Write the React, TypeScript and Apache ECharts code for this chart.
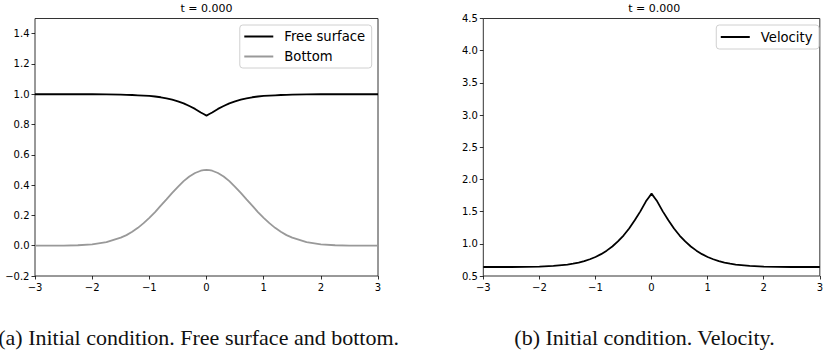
import React, { useEffect, useRef } from "react";
import * as echarts from "echarts";

// Sample positions along the channel
const xs = [
  -3, -2.75, -2.5, -2.25, -2, -1.75, -1.5, -1.4, -1.3, -1.2, -1.1, -1, -0.9, -0.8, -0.7, -0.6, -0.5, -0.4, -0.3, -0.2,
  -0.1, -0.05, 0, 0.05, 0.1, 0.2, 0.3, 0.4, 0.5, 0.6, 0.7, 0.8, 0.9, 1, 1.1, 1.2, 1.3, 1.4, 1.5, 1.75, 2, 2.25, 2.5,
  2.75, 3,
];

// Free surface elevation
const freeSurface = [
  1.0, 1.0, 1.0, 1.0, 1.0, 0.999, 0.997, 0.996, 0.995, 0.993, 0.991, 0.989, 0.985, 0.98, 0.973, 0.964, 0.953, 0.94,
  0.922, 0.903, 0.879, 0.869, 0.859, 0.869, 0.879, 0.903, 0.922, 0.94, 0.953, 0.964, 0.973, 0.98, 0.985, 0.989, 0.991,
  0.993, 0.995, 0.996, 0.997, 0.999, 1.0, 1.0, 1.0, 1.0, 1.0,
];

// Bottom topography
const bottom = [
  0.0, 0.0, 0.001, 0.003, 0.009, 0.023, 0.053, 0.07, 0.092, 0.118, 0.149, 0.184, 0.222, 0.264, 0.306, 0.349, 0.389,
  0.426, 0.457, 0.48, 0.495, 0.499, 0.5, 0.499, 0.495, 0.48, 0.457, 0.426, 0.389, 0.349, 0.306, 0.264, 0.222, 0.184,
  0.149, 0.118, 0.092, 0.07, 0.053, 0.023, 0.009, 0.003, 0.001, 0.0, 0.0,
];

// Depth-averaged velocity
const velocity = [
  0.64, 0.64, 0.64, 0.642, 0.646, 0.656, 0.678, 0.691, 0.709, 0.731, 0.76, 0.795, 0.839, 0.894, 0.958, 1.037, 1.129,
  1.238, 1.365, 1.504, 1.66, 1.72, 1.78, 1.72, 1.66, 1.504, 1.365, 1.238, 1.129, 1.037, 0.958, 0.894, 0.839, 0.795,
  0.76, 0.731, 0.709, 0.691, 0.678, 0.656, 0.646, 0.642, 0.64, 0.64, 0.64,
];

const leftYTicks = [-0.2, 0, 0.2, 0.4, 0.6, 0.8, 1.0, 1.2, 1.4];
const timeLabel = "t = 0.000";
const captionA = "(a) Initial condition. Free surface and bottom.";
const captionB = "(b) Initial condition. Velocity.";

const TICK_FONT = "DejaVu Sans";
const SERIF = "Liberation Serif";
const TICK_SIZE = 10;

const minus = (s: string) => s.replace("-", "\u2212");

const pairs = (ys: number[]) => xs.map((x, i) => [x, ys[i]]);

const tickStyle = { show: true, inside: false, length: 3.5, lineStyle: { color: "#000", width: 0.8 } };
const hiddenLine = { show: false, onZero: false };

function xAxis(gridIndex: number) {
  return {
    type: "value",
    gridIndex,
    min: -3,
    max: 3,
    interval: 1,
    axisLine: hiddenLine,
    axisTick: tickStyle,
    splitLine: { show: false },
    axisLabel: {
      margin: 6,
      fontFamily: TICK_FONT,
      fontSize: TICK_SIZE,
      color: "#000",
      formatter: (v: number) => minus(String(Math.round(v))),
    },
  };
}

export default function App() {
  const ref = useRef<HTMLDivElement>(null);

  useEffect(() => {
    if (!ref.current) return;
    const chart = echarts.init(ref.current, undefined, { renderer: "svg" });

    const legendCommon = {
      orient: "vertical",
      icon: "rect",
      itemWidth: 29,
      itemHeight: 2,
      itemGap: 5,
      borderColor: "#d0d0d0",
      borderWidth: 1,
      borderRadius: 3,
      backgroundColor: "rgba(255,255,255,0.8)",
      textStyle: {
        fontFamily: TICK_FONT,
        fontSize: 13.2,
        color: "#000",
        lineHeight: 15,
        padding: [0, 0, 0, 6],
      },
    };

    chart.setOption({
      animation: false,
      backgroundColor: "#fff",
      grid: [
        { left: 35, top: 18.5, width: 343, height: 257.5, show: true, borderColor: "#333", borderWidth: 1, backgroundColor: "transparent" },
        { left: 483.3, top: 18.5, width: 341.7, height: 257.5, show: true, borderColor: "#333", borderWidth: 1, backgroundColor: "transparent" },
      ],
      xAxis: [xAxis(0), xAxis(1)],
      yAxis: [
        {
          type: "value",
          gridIndex: 0,
          min: -0.2,
          max: 1.5,
          axisLine: hiddenLine,
          splitLine: { show: false },
          axisTick: { ...tickStyle, customValues: leftYTicks },
          axisLabel: {
            customValues: leftYTicks,
            margin: 5.5,
            fontFamily: TICK_FONT,
            fontSize: TICK_SIZE,
            color: "#000",
            formatter: (v: number) => minus(v.toFixed(1)),
          },
        },
        {
          type: "value",
          gridIndex: 1,
          min: 0.5,
          max: 4.5,
          interval: 0.5,
          axisLine: hiddenLine,
          splitLine: { show: false },
          axisTick: tickStyle,
          axisLabel: {
            margin: 5.5,
            fontFamily: TICK_FONT,
            fontSize: TICK_SIZE,
            color: "#000",
            formatter: (v: number) => v.toFixed(1),
          },
        },
      ],
      legend: [
        { ...legendCommon, data: ["Free surface", "Bottom"], right: 454.3, top: 25, padding: [4, 6.5, 4, 4.5] },
        { ...legendCommon, data: ["Velocity"], right: 7, top: 25, padding: [4.5, 6.5, 4.5, 4.5] },
      ],
      series: [
        {
          name: "Free surface",
          type: "line",
          xAxisIndex: 0,
          yAxisIndex: 0,
          data: pairs(freeSurface),
          showSymbol: false,
          symbol: "none",
          lineStyle: { color: "#000", width: 1.8 },
          itemStyle: { color: "#000" },
          z: 3,
        },
        {
          name: "Bottom",
          type: "line",
          xAxisIndex: 0,
          yAxisIndex: 0,
          data: pairs(bottom),
          showSymbol: false,
          symbol: "none",
          lineStyle: { color: "#999", width: 1.8 },
          itemStyle: { color: "#999" },
          z: 2,
        },
        {
          name: "Velocity",
          type: "line",
          xAxisIndex: 1,
          yAxisIndex: 1,
          data: pairs(velocity),
          showSymbol: false,
          symbol: "none",
          lineStyle: { color: "#000", width: 1.8 },
          itemStyle: { color: "#000" },
        },
      ],
      graphic: [
        {
          type: "text",
          x: 206.5,
          y: 8.5,
          style: { text: timeLabel, fontFamily: TICK_FONT, fontSize: 11, fill: "#000", align: "center", verticalAlign: "middle" },
        },
        {
          type: "text",
          x: 654.2,
          y: 8.5,
          style: { text: timeLabel, fontFamily: TICK_FONT, fontSize: 11, fill: "#000", align: "center", verticalAlign: "middle" },
        },
        {
          type: "text",
          x: 399,
          y: 337,
          style: { text: captionA, fontFamily: SERIF, fontSize: 22, fill: "#111", align: "right", verticalAlign: "middle" },
        },
        {
          type: "text",
          x: 644.5,
          y: 337,
          style: { text: captionB, fontFamily: SERIF, fontSize: 22, fill: "#111", align: "center", verticalAlign: "middle" },
        },
      ],
    });

    return () => chart.dispose();
  }, []);

  return (
    <div
      ref={ref}
      style={{ position: "fixed", left: 0, top: 0, width: 826, height: 352, background: "#fff" }}
    />
  );
}
